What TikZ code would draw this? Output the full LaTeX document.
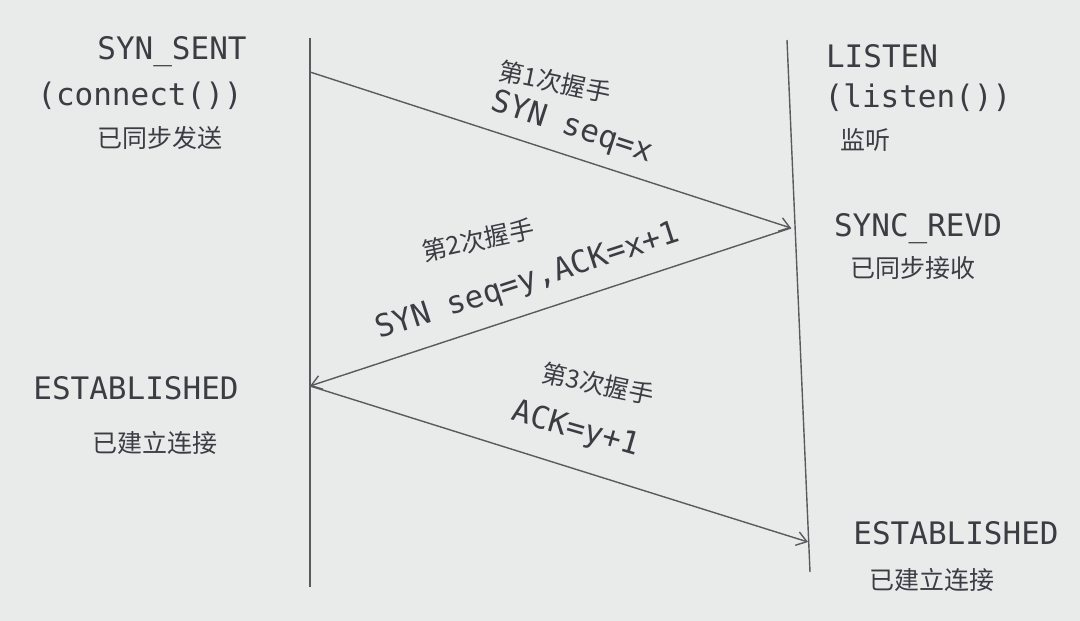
\documentclass[tikz,border=0pt]{standalone}
\usepackage{fontspec}
\usetikzlibrary{arrows.meta}
\setmainfont{DejaVu Sans Mono}
\newfontfamily\cjk{Noto Sans CJK SC}
\definecolor{bg}{HTML}{E9EBEB}
\definecolor{ink}{HTML}{3A3D42}
\begin{document}
\begin{tikzpicture}[x=1pt,y=-1pt,
  lbl/.style={text=ink,font=\fontsize{31}{34}\selectfont,inner sep=0pt},
  cn/.style={text=ink,font=\cjk\fontsize{25}{28}\selectfont,inner sep=0pt},
  line/.style={draw=ink!85,line width=1.4pt},
  arr/.style={line,-{Straight Barb[length=10pt,width=14pt]}}]
\fill[bg] (0,0) rectangle (1080,621);
\useasboundingbox (0,0) rectangle (1080,621);
% timelines
\coordinate (lt) at (310,38); \coordinate (lb) at (310,587);
\coordinate (rt) at (787,40); \coordinate (rb) at (810,572);
\draw[line] (lt) -- (lb);
\draw[line] (rt) -- (rb);
% arrow points
\coordinate (a1) at (310,72); \coordinate (b1) at (791,228);
\coordinate (a2) at (310,386); \coordinate (b2) at (808,542);
\draw[arr] (a1) -- (b1);
\draw[arr] (b1) -- (a2);
\draw[arr] (a2) -- (b2);
% left states
\node[lbl] (s1) at (172,52) {SYN\_SENT};
\node[lbl] (s2) at (140,96) {(connect())};
\node[cn] (s3) at (160,138) {已同步发送};
\node[lbl] (e1) at (136,388) {ESTABLISHED};
\node[cn] (e2) at (155,443) {已建立连接};
% right states
\node[lbl] (r1) at (882,56) {LISTEN};
\node[lbl] (r2) at (918,98) {(listen())};
\node[cn] (r3) at (865,140) {监听};
\node[lbl] (r4) at (918,229) {SYNC\_REVD};
\node[cn] (r5) at (913,268) {已同步接收};
\node[lbl] (r6) at (956,533) {ESTABLISHED};
\node[cn] (r7) at (932,580) {已建立连接};
% arrow labels
\node[cn,rotate=-12] (h1) at (555,82) {第1次握手};
\node[lbl,rotate=-18] (m1) at (572,128) {SYN seq=x};
\node[cn,rotate=12] (h2) at (478,240) {第2次握手};
\node[lbl,rotate=18] (m2) at (528,282) {SYN seq=y,ACK=x+1};
\node[cn,rotate=-12] (h3) at (598,384) {第3次握手};
\node[lbl,rotate=-16] (m3) at (576,430) {ACK=y+1};
\end{tikzpicture}
\end{document}
